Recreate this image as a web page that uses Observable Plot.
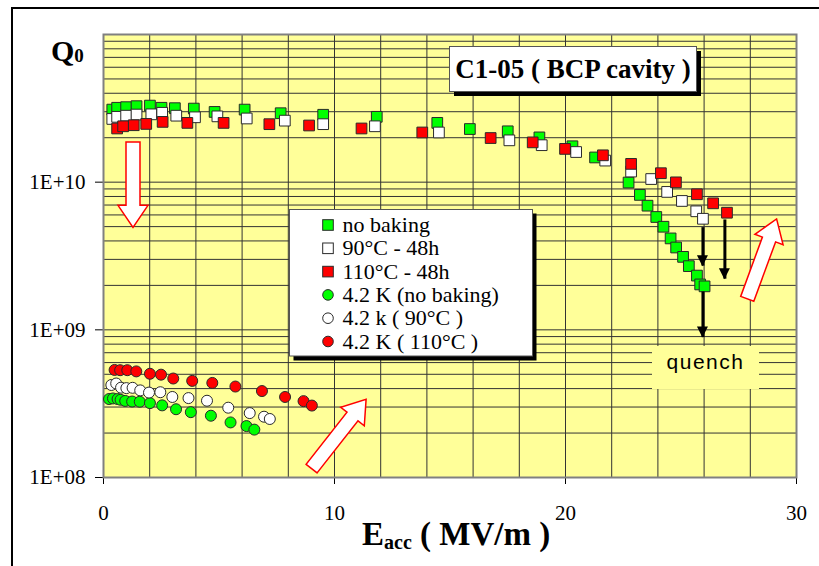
<!DOCTYPE html>
<html>
<head>
<meta charset="utf-8">
<script src="https://cdn.jsdelivr.net/npm/d3@7"></script>
<script src="https://cdn.jsdelivr.net/npm/@observablehq/plot@0.6"></script>
<style>
  body { margin: 0; background: #fff; }
  #wrap { position: relative; width: 819px; height: 566px; overflow: hidden; background: #fff; }
  #frame { position: absolute; left: 11px; top: 7px; width: 900px; height: 700px; border: 2px solid #000; box-sizing: border-box; }
  #chart { position: absolute; left: 0; top: 0; }
  text { white-space: pre; }
</style>
</head>
<body>
<div id="wrap"><div id="frame"></div><div id="chart"></div></div>
<script>
// ---------- data ----------
// 2 K measurements, squares
const noBakingE = [0.38, 0.59, 0.98, 1.43, 2.01, 2.51, 3.09, 3.91, 4.81, 6.11, 7.67, 9.51, 11.83, 14.45, 15.86, 17.50, 18.87, 20.30, 21.28, 22.73, 23.22, 23.55, 23.93, 24.24, 24.55, 24.79, 25.09, 25.34, 25.69, 25.83, 26.02];
const noBakingQ = [3.10e10, 3.19e10, 3.22e10, 3.27e10, 3.30e10, 3.19e10, 3.17e10, 3.15e10, 2.99e10, 3.10e10, 2.93e10, 2.86e10, 2.77e10, 2.52e10, 2.29e10, 2.21e10, 2.01e10, 1.75e10, 1.47e10, 9.94e9, 8.20e9, 6.93e9, 5.81e9, 4.99e9, 4.16e9, 3.61e9, 3.12e9, 2.70e9, 2.33e9, 2.03e9, 1.97e9];

const bake90E = [0.38, 0.59, 0.98, 1.43, 2.07, 2.54, 3.15, 3.96, 4.93, 6.20, 7.85, 9.51, 11.75, 14.52, 17.57, 18.97, 20.46, 21.72, 22.84, 23.71, 24.40, 25.04, 25.66, 25.95];
const bake90Q = [2.68e10, 2.77e10, 2.82e10, 2.87e10, 2.88e10, 2.95e10, 2.82e10, 2.75e10, 2.79e10, 2.70e10, 2.61e10, 2.47e10, 2.39e10, 2.17e10, 1.92e10, 1.78e10, 1.60e10, 1.40e10, 1.18e10, 1.05e10, 8.59e9, 7.46e9, 6.35e9, 5.65e9];

const bake110E = [0.59, 0.85, 1.31, 1.85, 2.56, 3.63, 5.20, 7.18, 8.90, 11.17, 13.80, 16.76, 18.58, 19.98, 21.62, 22.84, 24.13, 24.78, 25.69, 26.39, 26.99];
const bake110Q = [2.31e10, 2.39e10, 2.43e10, 2.48e10, 2.56e10, 2.52e10, 2.52e10, 2.47e10, 2.42e10, 2.31e10, 2.17e10, 1.99e10, 1.86e10, 1.68e10, 1.52e10, 1.33e10, 1.15e10, 9.97e9, 8.28e9, 7.19e9, 6.21e9];

// 4.2 K measurements, circles
const k42NoBakingE = [0.24, 0.41, 0.61, 0.74, 0.94, 1.24, 1.57, 2.01, 2.54, 3.14, 3.78, 4.65, 5.50, 6.19, 6.53];
const k42NoBakingQ = [3.40e8, 3.43e8, 3.40e8, 3.36e8, 3.30e8, 3.27e8, 3.26e8, 3.19e8, 3.08e8, 2.90e8, 2.77e8, 2.62e8, 2.36e8, 2.23e8, 2.11e8];

const k4290E = [0.34, 0.55, 0.76, 0.99, 1.26, 1.59, 1.97, 2.46, 2.98, 3.68, 4.48, 5.40, 6.33, 6.95, 7.20];
const k4290Q = [4.23e8, 4.33e8, 4.06e8, 4.03e8, 4.05e8, 3.89e8, 3.76e8, 3.78e8, 3.51e8, 3.45e8, 3.31e8, 2.97e8, 2.73e8, 2.58e8, 2.49e8];

const k42110E = [0.48, 0.72, 1.03, 1.42, 2.01, 2.49, 3.02, 3.84, 4.71, 5.71, 6.86, 7.86, 8.66, 9.02];
const k42110Q = [5.35e8, 5.33e8, 5.33e8, 5.23e8, 5.04e8, 4.97e8, 4.68e8, 4.51e8, 4.37e8, 4.13e8, 3.85e8, 3.51e8, 3.29e8, 3.07e8];

// axis ticks
const xTicks = [0, 10, 20, 30];
const yTicks = [1e8, 1e9, 1e10];
const xGridStep = 2;
const yGridMantissas = [1, 2, 3, 4, 5, 6, 7, 8, 9];
const yGridDecades = [1e8, 1e9, 1e10];

// legend
const legendLabels = ["no baking", "90°C - 48h", "110°C - 48h", "4.2 K (no baking)", "4.2 k ( 90°C )", "4.2 K ( 110°C )"];
const legendColors = ["#00FF00", "#FFFFFF", "#FF0000", "#00FF00", "#FFFFFF", "#FF0000"];
const legendShapes = ["square", "square", "square", "circle", "circle", "circle"];

// quench arrows (E, Q start, Q end)
const quenchE = [25.95, 25.95, 26.9];
const quenchQStart = [1.82e9, 4.96e9, 5.59e9];
const quenchQEnd = [8.93e8, 2.72e9, 2.22e9];

// hollow block arrows (tail E, tail Q, tip E, tip Q)
const blockTailE = [1.30, 27.89, 9.03];
const blockTailQ = [1.86e10, 1.61e9, 1.14e8];
const blockTipE = [1.30, 29.16, 11.39];
const blockTipQ = [4.91e9, 5.60e9, 3.36e8];

// ---------- build ----------
const rows = (E, Q) => E.map((e, i) => ({E: e, Q: Q[i]}));
const xGrid = d3.range(xGridStep, 30, xGridStep);
const yGrid = yGridDecades.flatMap(d => yGridMantissas.map(m => m * d)).filter(v => v > 1e8 && v < 1e11);
const yFmt = d => "1E+" + String(Math.round(Math.log10(d))).padStart(2, "0");

const sqR = 6.05, ciR = 5.5;
const mStroke = "#2a2a2a";

const chart = Plot.plot({
  width: 819,
  height: 566,
  marginLeft: 103,
  marginRight: 23,
  marginTop: 34,
  marginBottom: 89,
  style: {background: "transparent", fontFamily: "'Liberation Serif', 'Times New Roman', serif", fontSize: "21px", color: "#000"},
  x: {domain: [0, 30], ticks: xTicks, tickSize: 7, tickPadding: 21, label: null, tickFormat: d => String(d)},
  y: {type: "log", domain: [1e8, 1e11], ticks: yTicks, tickSize: 8, tickPadding: 10, label: null, tickFormat: yFmt},
  marks: [
    Plot.frame({fill: "#FFFF99", stroke: "none"}),
    Plot.ruleX(xGrid, {stroke: "#333", strokeWidth: 1}),
    Plot.ruleY(yGrid, {stroke: "#333", strokeWidth: 1}),
    Plot.frame({stroke: "#808080", strokeWidth: 2}),
    Plot.dot(rows(noBakingE, noBakingQ), {x: "E", y: "Q", symbol: "square", r: sqR, fill: "#00FF00", stroke: mStroke, strokeWidth: 1}),
    Plot.dot(rows(bake90E, bake90Q), {x: "E", y: "Q", symbol: "square", r: sqR, fill: "#FFFFFF", stroke: mStroke, strokeWidth: 1}),
    Plot.dot(rows(bake110E, bake110Q), {x: "E", y: "Q", symbol: "square", r: sqR, fill: "#FF0000", stroke: mStroke, strokeWidth: 1}),
    Plot.dot(rows(k42NoBakingE, k42NoBakingQ), {x: "E", y: "Q", r: ciR, fill: "#00FF00", stroke: mStroke, strokeWidth: 1}),
    Plot.dot(rows(k4290E, k4290Q), {x: "E", y: "Q", r: ciR, fill: "#FFFFFF", stroke: mStroke, strokeWidth: 1}),
    Plot.dot(rows(k42110E, k42110Q), {x: "E", y: "Q", r: ciR, fill: "#FF0000", stroke: mStroke, strokeWidth: 1}),
    Plot.link(quenchE.map((e, i) => ({E: e, Q1: quenchQStart[i], Q2: quenchQEnd[i]})), {x1: "E", x2: "E", y1: "Q1", y2: "Q2", stroke: "#000", strokeWidth: 3})
  ]
});
document.getElementById("chart").appendChild(chart);

// scales taken from the plot
const sxd = chart.scale("x"), syd = chart.scale("y");
const X = d3.scaleLinear(sxd.domain, sxd.range);
const Y = d3.scaleLog(syd.domain, syd.range);
const svg = d3.select(chart);
const g = svg.append("g").attr("text-anchor", "start");

// arrow heads for quench arrows
quenchE.forEach((e, i) => {
  const x = X(e), y = Y(quenchQEnd[i]);
  g.append("path").attr("d", `M${x - 5.5},${y - 10}L${x + 5.5},${y - 10}L${x},${y + 1}Z`).attr("fill", "#000");
});

// hollow block arrows
function blockArrow(x0, y0, x1, y1, w = 7, h = 15, L = 22) {
  const dx = x1 - x0, dy = y1 - y0, len = Math.hypot(dx, dy);
  const ux = dx / len, uy = dy / len, nx = -uy, ny = ux;
  const bx = x1 - ux * L, by = y1 - uy * L;
  const p = [
    [x0 + nx * w, y0 + ny * w], [bx + nx * w, by + ny * w], [bx + nx * h, by + ny * h], [x1, y1],
    [bx - nx * h, by - ny * h], [bx - nx * w, by - ny * w], [x0 - nx * w, y0 - ny * w]
  ];
  return "M" + p.map(q => q[0].toFixed(1) + "," + q[1].toFixed(1)).join("L") + "Z";
}
blockTailE.forEach((e, i) => {
  g.append("path")
    .attr("d", blockArrow(X(e), Y(blockTailQ[i]), X(blockTipE[i]), Y(blockTipQ[i])))
    .attr("fill", "#fff").attr("stroke", "#FF0000").attr("stroke-width", 1.5).attr("stroke-linejoin", "miter");
});

// quench label
g.append("rect").attr("x", 652).attr("y", 346).attr("width", 107).attr("height", 43).attr("fill", "#FFFF99");
g.append("text").attr("x", 705.5).attr("y", 362).attr("text-anchor", "middle")
  .attr("font-family", "'Liberation Sans', Arial, sans-serif").attr("font-size", 21).attr("letter-spacing", 1.5)
  .attr("dy", "0.33em").text("quench");

// title box
g.append("rect").attr("x", 454).attr("y", 51).attr("width", 247).attr("height", 45).attr("fill", "#000");
g.append("rect").attr("x", 449.5).attr("y", 46.5).attr("width", 247).attr("height", 45).attr("fill", "#fff").attr("stroke", "#555").attr("stroke-width", 1);
g.append("text").attr("x", 573).attr("y", 78).attr("text-anchor", "middle")
  .attr("font-family", "'Liberation Serif', 'Times New Roman', serif")
  .attr("font-weight", "bold").attr("font-size", 27).text("C1-05 ( BCP cavity )");

// legend
g.append("rect").attr("x", 293.5).attr("y", 213.5).attr("width", 243).attr("height", 147).attr("fill", "#000");
g.append("rect").attr("x", 289.5).attr("y", 209.5).attr("width", 243).attr("height", 146.5).attr("fill", "#fff").attr("stroke", "#555").attr("stroke-width", 1);
legendLabels.forEach((lab, i) => {
  const cy = 225 + i * 23.3;
  if (legendShapes[i] === "square") {
    g.append("rect").attr("x", 322.7).attr("y", cy - 5.3).attr("width", 10.6).attr("height", 10.6)
      .attr("fill", legendColors[i]).attr("stroke", mStroke).attr("stroke-width", 1);
  } else {
    g.append("circle").attr("cx", 328).attr("cy", cy).attr("r", 5.3)
      .attr("fill", legendColors[i]).attr("stroke", mStroke).attr("stroke-width", 1);
  }
  g.append("text").attr("x", 342.5).attr("y", cy + 7).attr("text-anchor", "start")
    .attr("font-family", "'Liberation Serif', 'Times New Roman', serif").attr("font-size", 22).text(lab);
});

// axis titles
const qt = g.append("text").attr("x", 51).attr("y", 61).attr("text-anchor", "start")
  .attr("font-family", "'Liberation Serif', 'Times New Roman', serif").attr("font-weight", "bold").attr("font-size", 30);
qt.append("tspan").text("Q");
qt.append("tspan").attr("font-size", 19).attr("dy", 1).text("0");

const et = g.append("text").attr("x", 362).attr("y", 545).attr("text-anchor", "start")
  .attr("font-family", "'Liberation Serif', 'Times New Roman', serif").attr("font-weight", "bold").attr("font-size", 33);
et.append("tspan").text("E");
et.append("tspan").attr("font-size", 20).attr("dy", 4).text("acc");
et.append("tspan").attr("dy", -4).text(" ( MV/m )");
</script>
</body>
</html>
